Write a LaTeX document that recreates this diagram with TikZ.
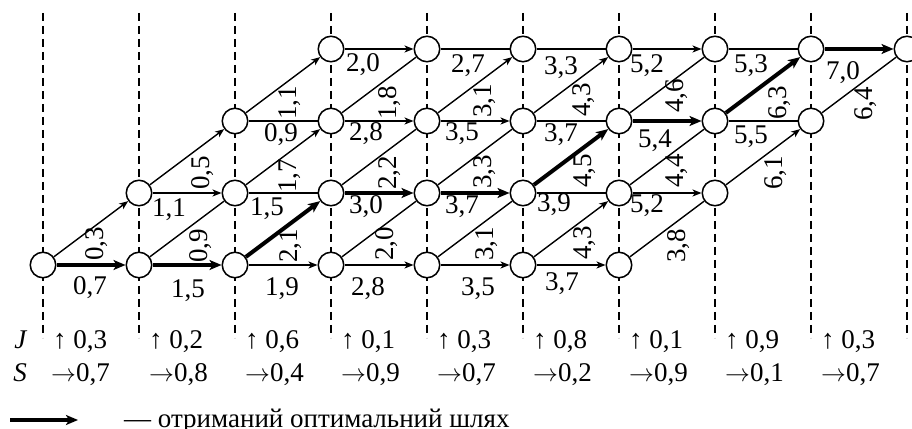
\documentclass[tikz,border=0pt]{standalone}
\usepackage{fontspec}
\setmainfont{Liberation Serif}
\usetikzlibrary{arrows.meta}
\begin{document}
\begin{tikzpicture}[x=1pt,y=1pt,
  every node/.style={font=\fontsize{27}{31}\selectfont},
  st/.style={circle, draw, line width=1.5pt, fill=white, minimum size=25.5pt, inner sep=0pt},
  guide/.style={dash pattern=on 8pt off 5pt, line width=1.2pt},
  e/.style={line width=1.4pt},
  ea/.style={e, -{Stealth[length=9pt,width=7pt,inset=2.5pt]}},
  opt/.style={line width=4pt, -{Stealth[length=12pt,width=10pt,inset=3pt]}},
  hl/.style={midway, inner sep=0pt, text height=17pt, text depth=0pt},
  dl/.style={midway, rotate=90, inner sep=0pt, text height=17pt, text depth=0pt},
  txt/.style={inner sep=0pt},
]
\useasboundingbox (0,0) rectangle (912,428);
% guide lines
\foreach \i in {0,...,9} \draw[guide] (43+96*\i,415) -- (43+96*\i,90);
% states
\foreach \i in {0,...,9} {
  \pgfmathtruncatemacro\lo{max(0,\i-6)}
  \pgfmathtruncatemacro\hi{min(\i,3)}
  \foreach \j in {\lo,...,\hi} \node[st] (n\i\j) at (43+96*\i, 163+72*\j) {};
}
% horizontal edges
\draw[opt] (n00) -- node[xshift=-1,yshift=-21,hl] {0,7} (n10);
\draw[opt] (n10) -- node[xshift=1,yshift=-24,hl] {1,5} (n20);
\draw[ea] (n20) -- node[xshift=-1,yshift=-22,hl] {1,9} (n30);
\draw[ea] (n30) -- node[xshift=-11,yshift=-22,hl] {2,8} (n40);
\draw[ea] (n40) -- node[xshift=3,yshift=-22,hl] {3,5} (n50);
\draw[ea] (n50) -- node[xshift=-9,yshift=-17,hl] {3,7} (n60);
\draw[ea] (n11) -- node[xshift=-18,yshift=-15,hl] {1,1} (n21);
\draw[e] (n21) -- node[xshift=-16,yshift=-14,hl] {1,5} (n31);
\draw[opt] (n31) -- node[xshift=-13,yshift=-12,hl] {3,0} (n41);
\draw[opt] (n41) -- node[xshift=-13,yshift=-12,hl] {3,7} (n51);
\draw[e] (n51) -- node[xshift=-17,yshift=-10,hl] {3,9} (n61);
\draw[ea] (n61) -- node[xshift=-20,yshift=-11,hl] {5,2} (n71);
\draw[e] (n22) -- node[xshift=-2,yshift=-12,hl] {0,9} (n32);
\draw[ea] (n32) -- node[xshift=-13,yshift=-11,hl] {2,8} (n42);
\draw[ea] (n42) -- node[xshift=-13,yshift=-11,hl] {3,5} (n52);
\draw[e] (n52) -- node[xshift=-10,yshift=-12,hl] {3,7} (n62);
\draw[opt] (n62) -- node[xshift=-12,yshift=-18,hl] {5,4} (n72);
\draw[e] (n72) -- node[xshift=-12,yshift=-14,hl] {5,5} (n82);
\draw[ea] (n33) -- node[xshift=-16,yshift=-14,hl] {2,0} (n43);
\draw[e] (n43) -- node[xshift=-7,yshift=-15,hl] {2,7} (n53);
\draw[e] (n53) -- node[xshift=-10,yshift=-17,hl] {3,3} (n63);
\draw[ea] (n63) -- node[xshift=-20,yshift=-15,hl] {5,2} (n73);
\draw[e] (n73) -- node[xshift=-12,yshift=-15,hl] {5,3} (n83);
\draw[opt] (n83) -- node[xshift=-16,yshift=-22,hl] {7,0} (n93);
% diagonal edges
\draw[ea] (n00) -- node[xshift=4,yshift=-15,dl] {0,3} (n11);
\draw[e] (n10) -- node[xshift=12,yshift=-17,dl] {0,9} (n21);
\draw[ea] (n11) -- node[xshift=14,yshift=-16,dl] {0,5} (n22);
\draw[opt] (n20) -- node[xshift=6,yshift=-17,dl] {2,1} (n31);
\draw[ea] (n21) -- node[xshift=5,yshift=-19,dl] {1,7} (n32);
\draw[ea] (n22) -- node[xshift=5,yshift=-18,dl] {1,1} (n33);
\draw[e] (n30) -- node[xshift=6,yshift=-15,dl] {2,0} (n41);
\draw[e] (n31) -- node[xshift=9,yshift=-16,dl] {2,2} (n42);
\draw[e] (n32) -- node[xshift=9,yshift=-18,dl] {1,8} (n43);
\draw[e] (n40) -- node[xshift=10,yshift=-15,dl] {3,1} (n51);
\draw[e] (n41) -- node[xshift=8,yshift=-15,dl] {3,3} (n52);
\draw[ea] (n42) -- node[xshift=8,yshift=-16,dl] {3,1} (n53);
\draw[ea] (n50) -- node[xshift=12,yshift=-14,dl] {4,3} (n61);
\draw[opt] (n51) -- node[xshift=12,yshift=-14,dl] {4,5} (n62);
\draw[ea] (n52) -- node[xshift=11,yshift=-15,dl] {4,3} (n63);
\draw[e] (n60) -- node[xshift=10,yshift=-17,dl] {3,8} (n71);
\draw[e] (n61) -- node[xshift=8,yshift=-14,dl] {4,4} (n72);
\draw[e] (n62) -- node[xshift=8,yshift=-11,dl] {4,6} (n73);
\draw[ea] (n71) -- node[xshift=11,yshift=-16,dl] {6,1} (n82);
\draw[opt] (n72) -- node[xshift=15,yshift=-18,dl] {6,3} (n83);
\draw[e] (n82) -- node[xshift=5,yshift=-19,dl] {6,4} (n93);
% J and S rows
\node[txt, anchor=base] (lj) at (21,79) {\textit{J}};
\node[txt, anchor=base] (ls) at (20,46) {\textit{S}};
\foreach \i/\v in {0/{0,3}, 1/{0,2}, 2/{0,6}, 3/{0,1}, 4/{0,3}, 5/{0,8}, 6/{0,1}, 7/{0,9}, 8/{0,3}}
  \node[txt, anchor=base west] (j\i) at (43+96*\i+10,79) {↑ \v};
\foreach \i/\v in {1/{0,8}, 2/{0,4}, 3/{0,9}, 4/{0,7}, 5/{0,2}, 6/{0,9}, 7/{0,1}, 8/{0,7}}
  \node[txt, anchor=base west] (s\i) at (43+96*\i+10,46) {$\rightarrow$\v};
\node[txt, anchor=base west] (s0) at (51,46) {$\rightarrow$0,7};
% legend
\coordinate (la) at (10,8);
\coordinate (lb) at (78,8);
\draw[opt] (la) -- (lb);
\node[txt, anchor=base west] (lt) at (124,1) {— отриманий оптимальний шлях};
\end{tikzpicture}
\end{document}
